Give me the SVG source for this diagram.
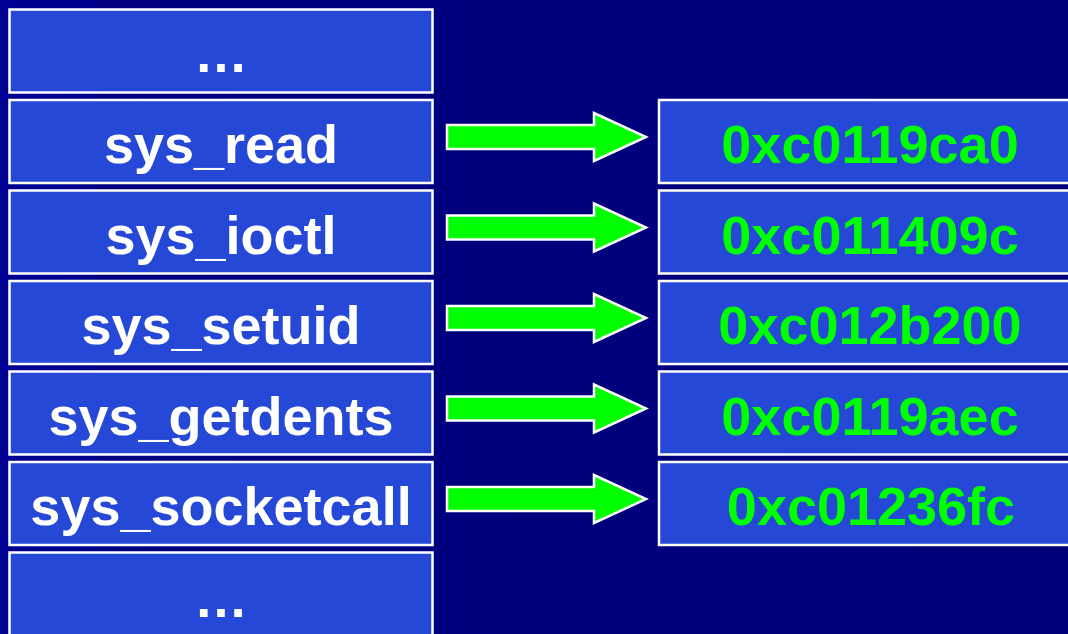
<svg xmlns="http://www.w3.org/2000/svg" width="1068" height="634" viewBox="0 0 1068 634">
<defs>
<linearGradient id="bg" x1="0" y1="0" x2="1" y2="0">
<stop offset="0" stop-color="#000092"/>
<stop offset="0.09" stop-color="#00008c"/>
<stop offset="0.091" stop-color="#000080"/>
<stop offset="1" stop-color="#00007a"/>
</linearGradient>
<style>
.box{fill:#2548d6;stroke:#ffffff;stroke-width:2.5}
.lbl{font-family:"Liberation Sans",Arial,sans-serif;font-weight:bold;font-size:54px;fill:#ffffff;text-anchor:middle}
.addr{font-family:"Liberation Sans",Arial,sans-serif;font-weight:bold;font-size:54px;fill:#00ff00;text-anchor:middle}
.arr{fill:#00ff00;stroke:#ffffff;stroke-width:2.5;stroke-linejoin:miter}
</style>
</defs>
<rect x="0" y="0" width="1068" height="634" fill="url(#bg)"/>
<g id="left-0"><rect class="box" x="9.5" y="9.5" width="423" height="83"/><text class="lbl" x="221" y="72">…</text></g>
<g id="left-1"><rect class="box" x="9.5" y="100" width="423" height="83"/><text class="lbl" x="221" y="163">sys_read</text></g>
<g id="left-2"><rect class="box" x="9.5" y="190.5" width="423" height="83"/><text class="lbl" x="221" y="253.5">sys_ioctl</text></g>
<g id="left-3"><rect class="box" x="9.5" y="281" width="423" height="83"/><text class="lbl" x="221" y="344">sys_setuid</text></g>
<g id="left-4"><rect class="box" x="9.5" y="371.5" width="423" height="83"/><text class="lbl" x="221" y="434.5">sys_getdents</text></g>
<g id="left-5"><rect class="box" x="9.5" y="462" width="423" height="83"/><text class="lbl" x="221" y="525">sys_socketcall</text></g>
<g id="left-6"><rect class="box" x="9.5" y="552.5" width="423" height="90"/><text class="lbl" x="221" y="617">…</text></g>
<g id="right-1"><rect class="box" x="659" y="100" width="430" height="83"/><text class="addr" x="870" y="163">0xc0119ca0</text></g>
<g id="right-2"><rect class="box" x="659" y="190.5" width="430" height="83"/><text class="addr" x="870" y="253.5">0xc011409c</text></g>
<g id="right-3"><rect class="box" x="659" y="281" width="430" height="83"/><text class="addr" x="870" y="344">0xc012b200</text></g>
<g id="right-4"><rect class="box" x="659" y="371.5" width="430" height="83"/><text class="addr" x="870" y="434.5">0xc0119aec</text></g>
<g id="right-5"><rect class="box" x="659" y="462" width="430" height="83"/><text class="addr" x="871" y="525">0xc01236fc</text></g>
<g id="connectors">
<polygon class="arr" points="447,125 594,125 594,113 646,137 594,161 594,149 447,149"/>
<polygon class="arr" points="447,215.5 594,215.5 594,203.5 646,227.5 594,251.5 594,239.5 447,239.5"/>
<polygon class="arr" points="447,306 594,306 594,294 646,318 594,342 594,330 447,330"/>
<polygon class="arr" points="447,396.5 594,396.5 594,384.5 646,408.5 594,432.5 594,420.5 447,420.5"/>
<polygon class="arr" points="447,487 594,487 594,475 646,499 594,523 594,511 447,511"/>
</g>
</svg>
